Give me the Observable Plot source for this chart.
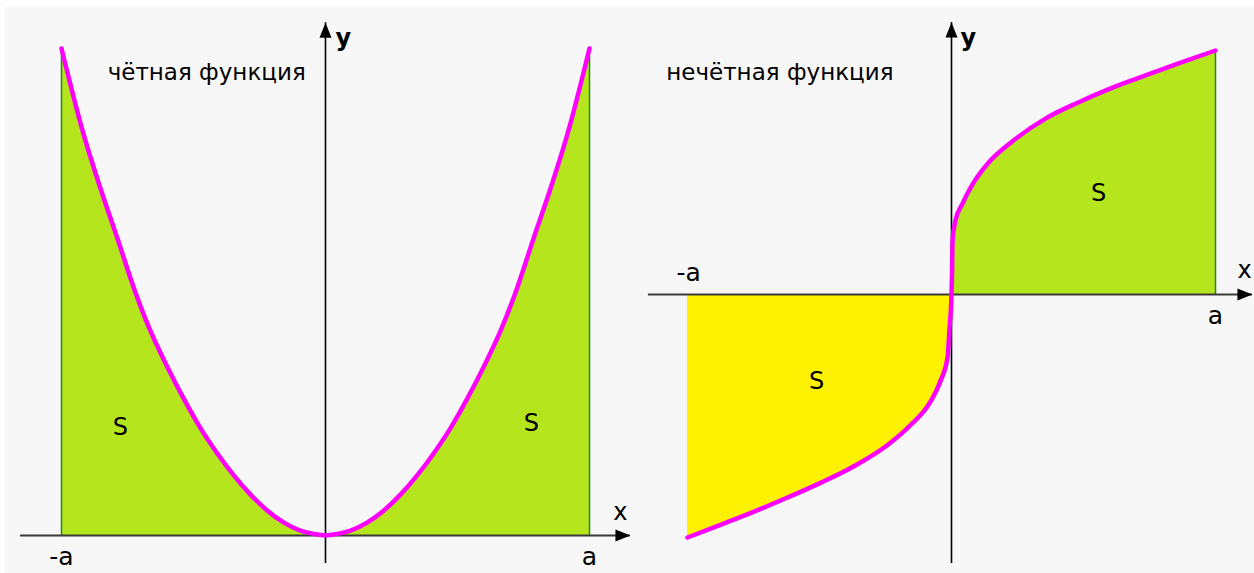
<!DOCTYPE html>
<html>
<head>
<meta charset="utf-8">
<script src="https://cdn.jsdelivr.net/npm/d3@7"></script>
<script src="https://cdn.jsdelivr.net/npm/@observablehq/plot@0.6"></script>
<style>
  html, body { margin: 0; padding: 0; background: #ffffff; }
  #wrap { position: relative; width: 1254px; height: 573px; overflow: hidden; }
  #bg { position: absolute; left: 5px; top: 6px; width: 1249px; height: 567px; background: #f7f7f7; }
  #left { position: absolute; left: 0; top: 0; }
  #right { position: absolute; left: 640px; top: 0; }
</style>
</head>
<body>
<div id="wrap"><div id="bg"></div><div id="left"></div><div id="right"></div></div>
<script>
// ---- data (x in units of a, y normalised to curve height) ----
const evenX = [-1, -0.917, -0.852, -0.788, -0.727, -0.663, -0.598, -0.538, -0.473, -0.409, -0.348, -0.284, -0.22, -0.159, -0.095, -0.03, 0, 0.03, 0.095, 0.159, 0.22, 0.284, 0.348, 0.409, 0.473, 0.538, 0.598, 0.663, 0.727, 0.788, 0.852, 0.917, 1];
const evenY = [1, 0.825, 0.712, 0.61, 0.51, 0.42, 0.345, 0.282, 0.22, 0.168, 0.124, 0.084, 0.051, 0.027, 0.010, 0.002, 0, 0.002, 0.010, 0.027, 0.051, 0.084, 0.124, 0.168, 0.22, 0.282, 0.345, 0.42, 0.51, 0.61, 0.712, 0.825, 1];

const oddX = [-1, -0.875, -0.75, -0.621, -0.496, -0.371, -0.242, -0.155, -0.08, -0.042, -0.015, -0.008, 0, 0.002, 0.004, 0.015, 0.042, 0.08, 0.14, 0.231, 0.356, 0.48, 0.61, 0.735, 0.86, 1];
const oddY = [-0.996, -0.944, -0.891, -0.832, -0.772, -0.705, -0.617, -0.535, -0.44, -0.355, -0.258, -0.148, 0, 0.086, 0.221, 0.303, 0.373, 0.452, 0.54, 0.628, 0.721, 0.787, 0.848, 0.898, 0.947, 1];

const titles = ["чётная функция", "нечётная функция"];
const tickLabels = ["-a", "a"];
const axisNames = ["x", "y"];
const areaLabel = "S";

// axis extents [xmin, xmax, ymin, ymax] for each panel
const evenAxis = [-1.155, 1.155, -0.0575, 1.053];
const oddAxis = [-1.148, 1.14, -1.102, 1.115];

// label anchor positions (data units)
const evenLabels = [
  {t: titles[0], x: -0.45, y: 0.951, kind: "title"},
  {t: axisNames[1], x: 0.068, y: 1.02, kind: "axisy"},
  {t: axisNames[0], x: 1.117, y: 0.047, kind: "axisx"},
  {t: tickLabels[0], x: -1, y: -0.045, kind: "tick"},
  {t: tickLabels[1], x: 1, y: -0.045, kind: "tick"},
  {t: areaLabel, x: -0.777, y: 0.222, kind: "s"},
  {t: areaLabel, x: 0.78, y: 0.23, kind: "s"}
];
const oddLabels = [
  {t: titles[1], x: -0.65, y: 0.91, kind: "title"},
  {t: axisNames[1], x: 0.064, y: 1.049, kind: "axisy"},
  {t: axisNames[0], x: 1.11, y: 0.098, kind: "axisx"},
  {t: tickLabels[0], x: -0.996, y: 0.09, kind: "tick"},
  {t: tickLabels[1], x: 1, y: -0.09, kind: "tick"},
  {t: areaLabel, x: 0.557, y: 0.414, kind: "s"},
  {t: areaLabel, x: -0.511, y: -0.357, kind: "s"}
];

const GREEN = "#b5e61d", YELLOW = "#fff200", MAGENTA = "#ff00ff", EDGE = "#1f8a13";
const FONT = "DejaVu Sans";

const arrowHead = {
  draw(ctx) {
    ctx.moveTo(0, 0);
    ctx.lineTo(6, 15);
    ctx.lineTo(-6, 15);
    ctx.closePath();
  }
};

function textMarks(labels) {
  const style = {
    title: {fontSize: 23, fontWeight: "normal"},
    axisy: {fontSize: 24, fontWeight: "bold"},
    axisx: {fontSize: 24, fontWeight: "normal"},
    tick: {fontSize: 25, fontWeight: "normal"},
    s: {fontSize: 24, fontWeight: "normal"}
  };
  return Object.keys(style).map(k =>
    Plot.text(labels.filter(d => d.kind === k), {
      x: "x", y: "y", text: "t", fill: "black",
      fontFamily: FONT, fontSize: style[k].fontSize, fontWeight: style[k].fontWeight
    })
  );
}

function axesMarks(ext) {
  return [
    Plot.ruleY([0], {x1: ext[0], x2: ext[1], stroke: "#3a3a3a", strokeWidth: 2}),
    Plot.ruleX([0], {y1: ext[2], y2: ext[3], stroke: "black", strokeWidth: 1.6}),
    Plot.dot([[ext[1], 0]], {x: d => d[0], y: d => d[1], symbol: arrowHead, fill: "black", stroke: "none", rotate: 90}),
    Plot.dot([[0, ext[3]]], {x: d => d[0], y: d => d[1], symbol: arrowHead, fill: "black", stroke: "none", rotate: 0})
  ];
}

const even = evenX.map((x, i) => ({x, y: evenY[i]}));
const odd = oddX.map((x, i) => ({x, y: oddY[i]}));

const left = Plot.plot({
  width: 640, height: 573,
  marginLeft: 61, marginRight: 51, marginTop: 48, marginBottom: 38,
  x: {domain: [-1, 1], axis: null},
  y: {domain: [0, 1], axis: null},
  style: {background: "transparent", overflow: "visible"},
  marks: [
    Plot.areaY(even, {x: "x", y: "y", fill: GREEN, curve: "monotone-x"}),
    Plot.ruleX([even[0], even[even.length - 1]], {x: "x", y1: 0, y2: "y", stroke: EDGE, strokeWidth: 1.5}),
    ...axesMarks(evenAxis),
    Plot.line(even, {x: "x", y: "y", stroke: MAGENTA, strokeWidth: 4.5, curve: "monotone-x"}),
    ...textMarks(evenLabels)
  ]
});
document.getElementById("left").appendChild(left);

const right = Plot.plot({
  width: 614, height: 573,
  marginLeft: 47, marginRight: 39, marginTop: 50, marginBottom: 35,
  x: {domain: [-1, 1], axis: null},
  y: {domain: [-1, 1], axis: null},
  style: {background: "transparent", overflow: "visible"},
  marks: [
    Plot.areaY(odd.filter(d => d.x <= 0), {x: "x", y: "y", fill: YELLOW, curve: "monotone-x"}),
    Plot.areaY(odd.filter(d => d.x >= 0), {x: "x", y: "y", fill: GREEN, curve: "monotone-x"}),
    Plot.ruleX([odd[odd.length - 1]], {x: "x", y1: 0, y2: "y", stroke: EDGE, strokeWidth: 1.5}),
    ...axesMarks(oddAxis),
    Plot.line(odd, {x: "x", y: "y", stroke: MAGENTA, strokeWidth: 4.5, curve: "monotone-x"}),
    ...textMarks(oddLabels)
  ]
});
document.getElementById("right").appendChild(right);
</script>
</body>
</html>
